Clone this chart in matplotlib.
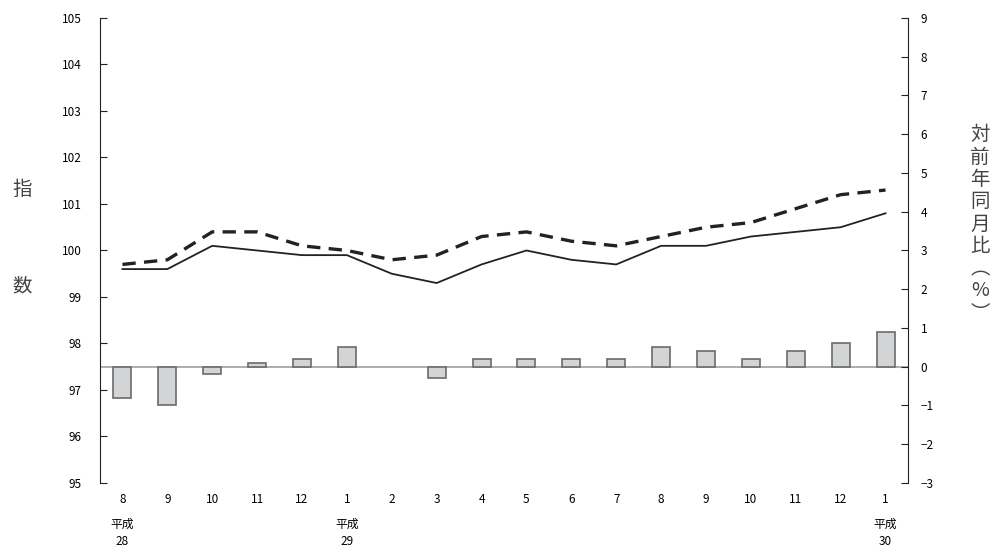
import numpy as np
import matplotlib
matplotlib.use("Agg")
import matplotlib.pyplot as plt

plt.rcParams['font.family'] = ['Noto Sans CJK JP', 'DejaVu Sans']

# ---- data ----
months = ["8", "9", "10", "11", "12", "1", "2", "3", "4", "5", "6", "7",
          "8", "9", "10", "11", "12", "1"]
index_solid = [99.6, 99.6, 100.1, 100.0, 99.9, 99.9, 99.5, 99.3, 99.7, 100.0,
               99.8, 99.7, 100.1, 100.1, 100.3, 100.4, 100.5, 100.8]
index_dashed = [99.7, 99.8, 100.4, 100.4, 100.1, 100.0, 99.8, 99.9, 100.3, 100.4,
                100.2, 100.1, 100.3, 100.5, 100.6, 100.9, 101.2, 101.3]
yoy_pct = [-0.8, -1.0, -0.2, 0.1, 0.2, 0.5, 0.0, -0.3, 0.2, 0.2,
           0.2, 0.2, 0.5, 0.4, 0.2, 0.4, 0.6, 0.9]
year_pos = [0, 5, 17]
year_labels = ["平成\n28", "平成\n29", "平成\n30"]

x = np.arange(len(months))

fig = plt.figure(figsize=(9.98, 5.53), dpi=100)
ax = fig.add_axes([0.1002, 0.1266, 0.8096, 0.8409])
ax2 = ax.twinx()

# 棒グラフ（右軸）
bars = ax2.bar(x, yoy_pct, width=0.4, color='#d3d4d6', edgecolor='#6b6b6b', linewidth=1.2, zorder=2)
for b, v in zip(bars, yoy_pct):
    if v == 0:
        b.set_linewidth(0)  # ゼロの棒は枠線なし
ax2.axhline(0, color='#a0a0a0', linewidth=1.2, zorder=1)
ax2.set_ylim(-3, 9)
ax2.set_yticks(range(-3, 10))

# 折れ線（左軸）
ax.plot(x, index_solid, color='#222222', linewidth=1.3, zorder=3)
ax.plot(x, index_dashed, color='#222222', linewidth=2.4, linestyle=(0, (4, 2.5)), zorder=3)
ax.set_ylim(95, 105)
ax.set_yticks(range(95, 106))
ax.set_xlim(-0.5, 17.5)
ax.set_zorder(ax2.get_zorder() + 1)
ax.patch.set_visible(False)

for a in (ax, ax2):
    for s in ('top', 'bottom'):
        a.spines[s].set_visible(False)
ax.spines['right'].set_visible(False)
ax2.spines['left'].set_visible(False)
ax.spines['left'].set_color('#222222')
ax2.spines['right'].set_color('#222222')

ax.tick_params(axis='y', direction='in', length=5, labelsize=8.5, pad=13, color='#222222')
ax2.tick_params(axis='y', direction='in', length=5, labelsize=8.5, pad=9, color='#222222')
ax.set_xticks(x)
ax.set_xticklabels(months, fontsize=8.5)
ax.tick_params(axis='x', length=0, pad=7)

# 年ラベル
for p, lab in zip(year_pos, year_labels):
    ax.text(p, -0.075, lab, transform=ax.get_xaxis_transform(), ha='center', va='top',
            fontsize=8.5, linespacing=1.45)

# 軸ラベル
fig.text(0.022, 0.657, "指", fontsize=14, ha='center', va='center', color='#444444')
fig.text(0.022, 0.482, "数", fontsize=14, ha='center', va='center', color='#444444')
fig.text(0.982, 0.595, "対\n前\n年\n同\n月\n比\n︵\n%\n︶", fontsize=14, ha='center',
         va='center', linespacing=1.08, color='#444444')

fig.savefig("out.png", dpi=100)
